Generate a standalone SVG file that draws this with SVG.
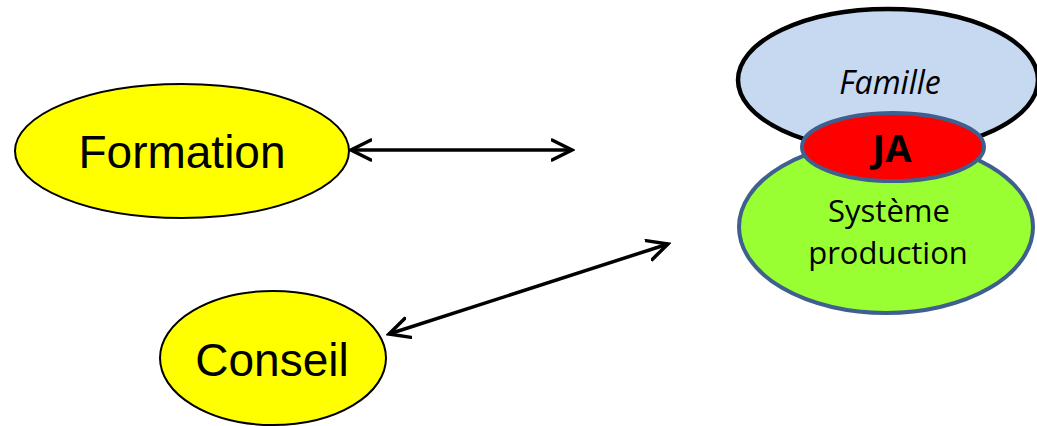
<svg xmlns="http://www.w3.org/2000/svg" width="1037" height="426" viewBox="0 0 1037 426">
<style>
.yel{fill:#FFFF00;stroke:#000;stroke-width:2}
.big{font-family:"Liberation Sans",Arial,sans-serif;font-size:46px;fill:#000;text-anchor:middle}
.cal{font-family:"Open Sans","Noto Sans",sans-serif;fill:#000;text-anchor:middle}
.conn{stroke:#000;stroke-width:3.5;fill:none;marker-start:url(#ah);marker-end:url(#ah)}
</style>
<defs>
<marker id="ah" viewBox="0 0 24 24" refX="21" refY="12" markerWidth="24" markerHeight="24" markerUnits="userSpaceOnUse" orient="auto-start-reverse">
<path d="M1,2 L21,12 L1,22" fill="none" stroke="#000" stroke-width="3.5" stroke-linecap="round" stroke-linejoin="miter"/>
</marker>
</defs>
<rect width="1037" height="426" fill="#fff"/>
<g id="connectors">
<line class="conn" x1="351" y1="150" x2="572" y2="150"/>
<line class="conn" x1="389" y1="334" x2="668" y2="244"/>
</g>
<g id="formation">
<ellipse class="yel" cx="182" cy="151" rx="167" ry="67"/>
<text class="big" x="182" y="168">Formation</text>
</g>
<g id="conseil">
<ellipse class="yel" cx="273" cy="358" rx="113" ry="67"/>
<text class="big" x="272" y="376">Conseil</text>
</g>
<g id="famille">
<ellipse cx="888" cy="80" rx="150" ry="71" fill="#C6D9F1" stroke="#000" stroke-width="4.5"/>
<text class="cal" x="890" y="94" font-size="32" font-style="italic">Famille</text>
</g>
<g id="systeme">
<ellipse cx="886" cy="227" rx="147" ry="86" fill="#99FF33" stroke="#3F5F8F" stroke-width="4"/>
<text class="cal" x="889" y="222" font-size="31">Système</text>
<text class="cal" x="888" y="264" font-size="31">production</text>
</g>
<g id="ja">
<ellipse cx="893" cy="147" rx="91" ry="34" fill="#FF0000" stroke="#3F5F8F" stroke-width="4"/>
<text class="cal" x="892" y="162" font-size="38" font-weight="bold">JA</text>
</g>
</svg>
